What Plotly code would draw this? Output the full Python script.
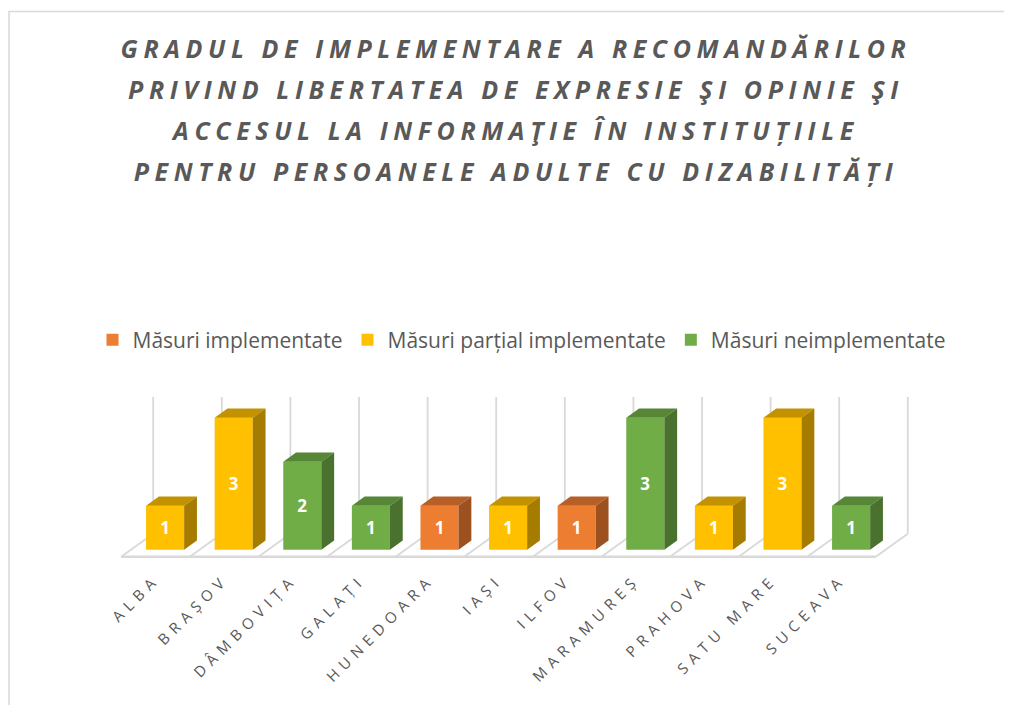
import plotly.graph_objects as go

# ---------------- data ----------------
categories = ["ALBA", "BRAȘOV", "DÂMBOVIȚA", "GALAȚI", "HUNEDOARA", "IAȘI",
              "ILFOV", "MARAMUREȘ", "PRAHOVA", "SATU MARE", "SUCEAVA"]
implementate = [None, None, None, None, 1, None, 1, None, None, None, None]
partial_implementate = [1, 3, None, None, None, 1, None, None, 1, 3, None]
neimplementate = [None, None, 2, 1, None, None, None, 3, None, None, 1]

series_names = ["Măsuri implementate", "Măsuri parțial implementate", "Măsuri neimplementate"]
series_values = [implementate, partial_implementate, neimplementate]
front_colors = ["#ED7D31", "#FFC000", "#70AD47"]
top_colors = ["#B65F26", "#C39200", "#578637"]
side_colors = ["#9C511F", "#A67C00", "#4A722E"]

title_lines = ["GRADUL DE IMPLEMENTARE A RECOMANDĂRILOR",
               "PRIVIND LIBERTATEA DE EXPRESIE ŞI OPINIE ŞI",
               "ACCESUL LA INFORMAŢIE ÎN INSTITUȚIILE",
               "PENTRU PERSOANELE ADULTE CU DIZABILITĂȚI"]

# ---------------- geometry (pseudo 3-D) ----------------
OFF = 8                               # page body margin
W, H = 1012 - OFF, 705 - OFF
ML, MR, MT, MB = 10, 10, 373, 144
XSCALE, YSCALE = 68.6, 44.0          # px per unit
X0PX, Y0PX = 155.5 - OFF, 556.7 - OFF  # pixel of (0,0) on the front plane
DX, DY = 32 / XSCALE, 23 / YSCALE    # full depth of the floor in data units
Z_FRONT, Z_BACK = 0.3, 0.7           # bar depth position
BAR_W = 0.555
WALL_TOP = (Y0PX - (397 - OFF)) / YSCALE

plot_w = W - ML - MR
plot_h = H - MT - MB
xr0 = (ML - X0PX) / XSCALE
xr1 = xr0 + plot_w / XSCALE
yr0 = -((H - MB) - Y0PX) / YSCALE
yr1 = yr0 + plot_h / YSCALE

px_to_paper_x = lambda p: (p - OFF - ML) / plot_w
py_to_paper_y = lambda p: ((H - MB) - (p - OFF)) / plot_h

n = len(categories)
fig = go.Figure()

# front faces (real bars)
for name, vals, fc in zip(series_names, series_values, front_colors):
    xs = [i + Z_FRONT * DX for i in range(n)]
    fig.add_trace(go.Bar(
        x=xs, y=vals, base=Z_FRONT * DY, width=BAR_W, name=name,
        marker=dict(color=fc, line=dict(width=0)),
        text=[str(v) if v is not None else "" for v in vals],
        textposition="inside", insidetextanchor="middle",
        textfont=dict(family="Open Sans", size=17, color="white", weight="bold"),
        textangle=0, showlegend=True, hoverinfo="skip"))

# top and side faces
ddx, ddy = (Z_BACK - Z_FRONT) * DX, (Z_BACK - Z_FRONT) * DY
for vals, tc, sc in zip(series_values, top_colors, side_colors):
    tx, ty, sx, sy = [], [], [], []
    for i, v in enumerate(vals):
        if v is None:
            continue
        xl = i + Z_FRONT * DX - BAR_W / 2
        xr = xl + BAR_W
        yb = Z_FRONT * DY
        yt = yb + v
        tx += [xl, xr, xr + ddx, xl + ddx, xl, None]
        ty += [yt, yt, yt + ddy, yt + ddy, yt, None]
        sx += [xr, xr + ddx, xr + ddx, xr, xr, None]
        sy += [yb, yb + ddy, yt + ddy, yt, yb, None]
    fig.add_trace(go.Scatter(x=tx, y=ty, mode="lines", fill="toself", fillcolor=tc,
                             line=dict(width=0, color=tc), showlegend=False, hoverinfo="skip"))
    fig.add_trace(go.Scatter(x=sx, y=sy, mode="lines", fill="toself", fillcolor=sc,
                             line=dict(width=0, color=sc), showlegend=False, hoverinfo="skip"))

# floor + back gridlines as shapes below traces
grid_col = "#D9D9D9"
shapes = []
shapes.append(dict(type="line", x0=-0.5, x1=n - 0.5, y0=0, y1=0, layer="below",
                   line=dict(color=grid_col, width=2.5)))
for k in range(n + 1):
    b = k - 0.5
    shapes.append(dict(type="line", x0=b, y0=0, x1=b + DX, y1=DY, layer="below",
                       line=dict(color=grid_col, width=1.8)))
    shapes.append(dict(type="line", x0=b + DX, y0=DY, x1=b + DX, y1=WALL_TOP, layer="below",
                       line=dict(color=grid_col, width=1.8)))
# chart border (in paper coordinates)
shapes.append(dict(type="rect", xref="paper", yref="paper",
                   x0=px_to_paper_x(9), x1=px_to_paper_x(1005),
                   y0=py_to_paper_y(720), y1=py_to_paper_y(11.5),
                   line=dict(color="#D9D9D9", width=1.5), layer="below"))

title_html = "<br>".join(
    f'<span style="font-size:25px;letter-spacing:5.6px">{t}</span>' for t in title_lines)

tick_html = [f'<span style="letter-spacing:5.8px">{c}</span>' for c in categories]

fig.update_layout(
    width=W, height=H, autosize=False,
    margin=dict(l=ML, r=MR, t=MT, b=MB, autoexpand=False),
    paper_bgcolor="white", plot_bgcolor="white",
    barmode="overlay",
    shapes=shapes,
    title=dict(text=title_html, x=(516 - OFF) / W, xref="container", xanchor="center",
               y=1 - (58 - OFF) / H, yref="container", yanchor="top", automargin=False,
               font=dict(family="Open Sans", size=31.5, color="#595959",
                         weight="bold", style="italic")),
    legend=dict(orientation="h", x=px_to_paper_x(522), xanchor="center",
                y=py_to_paper_y(340), yanchor="middle",
                font=dict(family="Open Sans", size=21, color="#595959"),
                itemclick=False, traceorder="normal"),
    xaxis=dict(range=[xr0, xr1], tickvals=list(range(n)), ticktext=tick_html,
               tickangle=-45, showgrid=False, zeroline=False, showline=False,
               ticks="", ticklabelstandoff=6, automargin=False,
               tickfont=dict(family="Open Sans", size=15, color="#595959")),
    yaxis=dict(range=[yr0, yr1], visible=False, showgrid=False, zeroline=False),
    showlegend=True,
)

fig.write_html("out.html")
